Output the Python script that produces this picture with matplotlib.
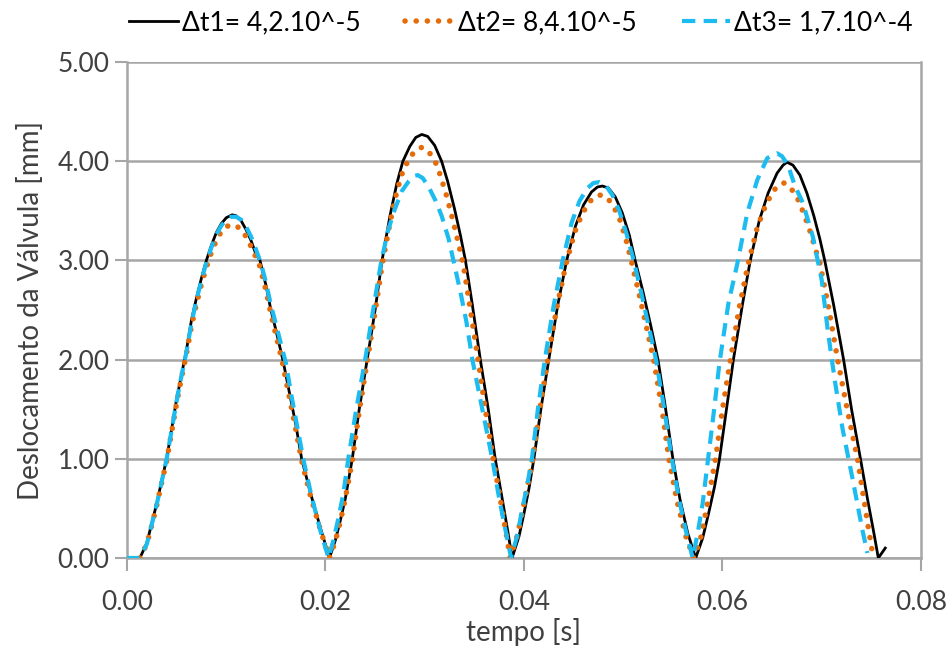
import matplotlib
matplotlib.use('Agg')
import matplotlib.pyplot as plt

matplotlib.rcParams['font.family'] = ['Lato', 'DejaVu Sans']

# dados: tempo [s] e deslocamento [mm]
t1 = [0.0013, 0.0020, 0.0025, 0.0030, 0.0035, 0.0040, 0.0045, 0.0050, 0.0055, 0.0060,
      0.0065, 0.0070, 0.0075, 0.0080, 0.0085, 0.0090, 0.0095, 0.0100, 0.0106, 0.0110,
      0.0115, 0.0120, 0.0125, 0.0130, 0.0134, 0.0140, 0.0145, 0.0150, 0.0157, 0.0165,
      0.0170, 0.0176, 0.0185, 0.0195, 0.0204,
      0.0210, 0.0215, 0.0220, 0.0227, 0.0234, 0.0242, 0.0250, 0.0257, 0.0265, 0.0272,
      0.0278, 0.0285, 0.0291, 0.0297, 0.0303, 0.0310, 0.0317, 0.0323, 0.0330, 0.0336,
      0.0341, 0.0348, 0.0356, 0.0364, 0.0371, 0.0378, 0.0384, 0.0388,
      0.0395, 0.0400, 0.0405, 0.0410, 0.0417, 0.0425, 0.0434, 0.0443, 0.0452, 0.0460,
      0.0468, 0.0474, 0.0479, 0.0485, 0.0492, 0.0499, 0.0506, 0.0512, 0.0520, 0.0528,
      0.0535, 0.0542, 0.0550, 0.0557, 0.0565, 0.0573,
      0.0580, 0.0586, 0.0592, 0.0597, 0.0604, 0.0611, 0.0620, 0.0628, 0.0637, 0.0646,
      0.0655, 0.0661, 0.0665, 0.0671, 0.0678, 0.0685, 0.0692, 0.0698, 0.0703, 0.0712,
      0.0722, 0.0730, 0.0739, 0.0746, 0.0752, 0.0757, 0.0764]
d1 = [0.00, 0.15, 0.35, 0.55, 0.78, 1.00, 1.30, 1.60, 1.85, 2.10,
      2.40, 2.62, 2.82, 3.00, 3.15, 3.28, 3.37, 3.43, 3.46, 3.45,
      3.40, 3.31, 3.20, 3.06, 3.00, 2.75, 2.50, 2.30, 2.00, 1.60,
      1.35, 1.00, 0.65, 0.30, 0.00,
      0.18, 0.38, 0.60, 1.00, 1.50, 2.00, 2.50, 3.00, 3.45, 3.78,
      4.00, 4.15, 4.24, 4.27, 4.25, 4.16, 4.00, 3.80, 3.52, 3.25,
      3.00, 2.55, 2.00, 1.50, 1.00, 0.60, 0.25, 0.00,
      0.22, 0.45, 0.70, 1.00, 1.50, 2.00, 2.55, 3.00, 3.35, 3.56,
      3.69, 3.74, 3.75, 3.73, 3.64, 3.48, 3.26, 3.00, 2.68, 2.33,
      2.00, 1.55, 1.00, 0.60, 0.25, 0.00,
      0.20, 0.45, 0.72, 1.00, 1.50, 2.00, 2.55, 3.00, 3.40, 3.68,
      3.88, 3.96, 3.99, 3.96, 3.86, 3.68, 3.45, 3.22, 3.00, 2.55,
      2.00, 1.50, 1.00, 0.60, 0.28, 0.00, 0.10]

t2 = [0.0013, 0.0020, 0.0025, 0.0030, 0.0035, 0.0040, 0.0045, 0.0050, 0.0055, 0.0060,
      0.0065, 0.0070, 0.0075, 0.0080, 0.0085, 0.0090, 0.0095, 0.0100, 0.0105, 0.0110,
      0.0115, 0.0120, 0.0125, 0.0130, 0.0133, 0.0140, 0.0145, 0.0150, 0.0156, 0.0164,
      0.0170, 0.0176, 0.0185, 0.0195, 0.0204,
      0.0210, 0.0215, 0.0220, 0.0227, 0.0234, 0.0242, 0.0250, 0.0257, 0.0265, 0.0272,
      0.0278, 0.0285, 0.0291, 0.0297, 0.0303, 0.0310, 0.0316, 0.0322, 0.0328, 0.0334,
      0.0339, 0.0346, 0.0353, 0.0361, 0.0369, 0.0376, 0.0382, 0.0386,
      0.0393, 0.0398, 0.0403, 0.0409, 0.0416, 0.0424, 0.0433, 0.0442, 0.0451, 0.0459,
      0.0467, 0.0473, 0.0478, 0.0484, 0.0490, 0.0497, 0.0503, 0.0508, 0.0516, 0.0524,
      0.0531, 0.0539, 0.0546, 0.0554, 0.0563, 0.0571,
      0.0578, 0.0583, 0.0588, 0.0593, 0.0600, 0.0608, 0.0617, 0.0626, 0.0635, 0.0644,
      0.0652, 0.0658, 0.0662, 0.0668, 0.0675, 0.0682, 0.0689, 0.0694, 0.0698, 0.0707,
      0.0716, 0.0726, 0.0736, 0.0742, 0.0747, 0.0752]
d2 = [0.00, 0.14, 0.33, 0.53, 0.76, 0.98, 1.27, 1.56, 1.82, 2.06,
      2.34, 2.56, 2.76, 2.93, 3.08, 3.20, 3.29, 3.34, 3.36, 3.35,
      3.31, 3.24, 3.14, 3.03, 2.97, 2.70, 2.46, 2.25, 2.00, 1.60,
      1.30, 0.98, 0.62, 0.28, 0.00,
      0.17, 0.37, 0.60, 0.98, 1.48, 1.98, 2.48, 2.95, 3.38, 3.70,
      3.90, 4.04, 4.11, 4.14, 4.11, 4.01, 3.85, 3.65, 3.42, 3.17,
      2.95, 2.50, 2.05, 1.50, 1.00, 0.60, 0.25, 0.00,
      0.22, 0.45, 0.70, 1.00, 1.50, 2.00, 2.52, 2.95, 3.28, 3.48,
      3.60, 3.65, 3.66, 3.63, 3.55, 3.40, 3.20, 3.00, 2.66, 2.30,
      1.98, 1.50, 1.00, 0.58, 0.22, 0.00,
      0.20, 0.45, 0.72, 1.00, 1.50, 2.00, 2.53, 2.97, 3.33, 3.57,
      3.71, 3.77, 3.78, 3.74, 3.64, 3.47, 3.27, 3.10, 2.98, 2.52,
      2.00, 1.48, 1.00, 0.62, 0.30, 0.00]

t3 = [0.0000, 0.0013, 0.0020, 0.0025, 0.0030, 0.0035, 0.0040, 0.0045, 0.0050, 0.0055,
      0.0060, 0.0065, 0.0070, 0.0075, 0.0080, 0.0085, 0.0090, 0.0095, 0.0100, 0.0105,
      0.0110, 0.0115, 0.0120, 0.0125, 0.0130, 0.0135, 0.0140, 0.0145, 0.0150, 0.0160,
      0.0166, 0.0172, 0.0178, 0.0186, 0.0195, 0.0203,
      0.0208, 0.0213, 0.0218, 0.0223, 0.0231, 0.0240, 0.0248, 0.0256, 0.0263, 0.0270,
      0.0277, 0.0284, 0.0289, 0.0293, 0.0298, 0.0304, 0.0311, 0.0317, 0.0324, 0.0330,
      0.0336, 0.0342, 0.0348, 0.0354, 0.0361, 0.0368, 0.0375, 0.0381, 0.0387,
      0.0393, 0.0398, 0.0403, 0.0408, 0.0414, 0.0421, 0.0430, 0.0439, 0.0448, 0.0456,
      0.0464, 0.0470, 0.0476, 0.0482, 0.0489, 0.0496, 0.0503, 0.0510, 0.0518, 0.0526,
      0.0533, 0.0541, 0.0549, 0.0556, 0.0563, 0.0570,
      0.0575, 0.0580, 0.0585, 0.0591, 0.0597, 0.0606, 0.0615, 0.0625, 0.0635, 0.0645,
      0.0650, 0.0655, 0.0660, 0.0666, 0.0673, 0.0681, 0.0691, 0.0700, 0.0706, 0.0713,
      0.0721, 0.0731, 0.0741, 0.0746]
d3 = [0.00, 0.00, 0.14, 0.34, 0.54, 0.77, 1.00, 1.29, 1.58, 1.84,
      2.08, 2.37, 2.60, 2.80, 2.98, 3.13, 3.26, 3.35, 3.41, 3.44,
      3.44, 3.41, 3.34, 3.24, 3.11, 2.97, 2.78, 2.55, 2.36, 1.97,
      1.62, 1.30, 0.98, 0.62, 0.27, 0.00,
      0.18, 0.40, 0.65, 1.00, 1.50, 2.00, 2.50, 2.98, 3.30, 3.52,
      3.70, 3.80, 3.85, 3.86, 3.83, 3.74, 3.60, 3.45, 3.22, 2.95,
      2.68, 2.38, 2.00, 1.70, 1.35, 1.00, 0.60, 0.30, 0.00,
      0.22, 0.48, 0.72, 1.00, 1.50, 2.00, 2.55, 3.00, 3.38, 3.60,
      3.73, 3.78, 3.79, 3.76, 3.66, 3.50, 3.28, 3.02, 2.68, 2.32,
      2.00, 1.52, 1.00, 0.60, 0.28, 0.00,
      0.25, 0.55, 0.96, 1.45, 1.97, 2.57, 2.97, 3.48, 3.81, 4.03,
      4.06, 4.08, 4.05, 3.96, 3.75, 3.58, 3.24, 2.80, 2.30, 1.80,
      1.30, 0.80, 0.28, 0.05]

rotulos = ['Δt1= 4,2.10^-5', 'Δt2= 8,4.10^-5', 'Δt3= 1,7.10^-4']
xticks = [0.00, 0.02, 0.04, 0.06, 0.08]
yticks = [0.0, 1.0, 2.0, 3.0, 4.0, 5.0]

cinza = '#a6a6a6'
fig = plt.figure(figsize=(9.49, 6.53), dpi=100)
ax = fig.add_axes([0.1338, 0.1455, 0.8367, 0.7595])

ax.plot(t1, d1, color='black', lw=2.0, label=rotulos[0], zorder=3)
ax.plot(t2, d2, color='#e46c0a', lw=4.0, linestyle=(0, (0.01, 2.0)),
        dash_capstyle='round', label=rotulos[1], zorder=4)
ax.plot(t3, d3, color='#1cbcf0', lw=3.0, linestyle=(0, (3.2, 2.0)),
        label=rotulos[2], zorder=5)

ax.set_xlim(0, 0.08)
ax.set_ylim(0, 5)
ax.set_xticks(xticks)
ax.set_yticks(yticks)
ax.set_xticklabels([f'{v:.2f}' for v in xticks])
ax.set_yticklabels([f'{v:.2f}' for v in yticks])
ax.tick_params(axis='both', labelsize=19, colors='#404040', length=9, width=1.5)
ax.tick_params(axis='both', color=cinza)
ax.tick_params(axis='x', pad=14)
ax.grid(axis='y', color=cinza, lw=1.8, zorder=0)
ax.set_axisbelow(True)
for lado in ['left', 'right', 'bottom']:
    ax.spines[lado].set_color(cinza)
    ax.spines[lado].set_linewidth(1.8)
ax.spines['top'].set_visible(False)

ax.set_xlabel('tempo [s]', fontsize=20, color='#404040', labelpad=2)
ax.set_ylabel('Deslocamento da Válvula [mm]', fontsize=20, color='#404040', labelpad=10)

fig.legend(loc='upper center', bbox_to_anchor=(0.549, 1.02), ncol=3, frameon=False,
           fontsize=19, handlelength=1.85, handletextpad=0.15, columnspacing=1.7,
           labelcolor='#000000')

fig.savefig('out.png', dpi=100)
